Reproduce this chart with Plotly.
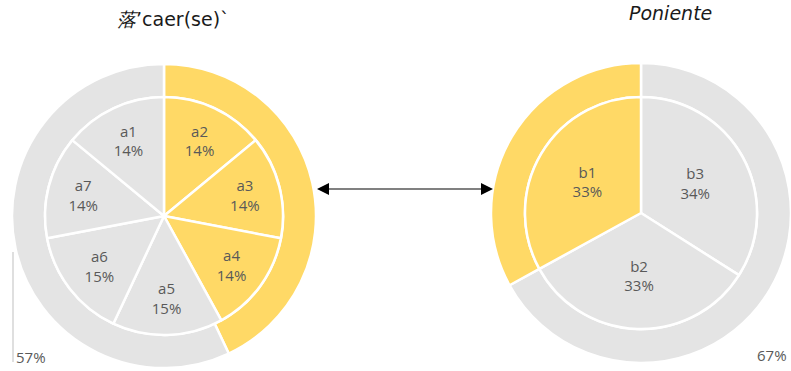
import plotly.graph_objects as go

W, H = 791, 371

# --- data -------------------------------------------------------------
left_title = "<i>落</i>’caer(se)`"
right_title = "<i>Poniente</i>"

# inner pies, listed clockwise from 12 o'clock
left_inner_labels = ["a2", "a3", "a4", "a5", "a6", "a7", "a1"]
left_inner_values = [14, 14, 14, 15, 15, 14, 14]
left_inner_highlight = [True, True, True, False, False, False, False]

right_inner_labels = ["b3", "b2", "b1"]
right_inner_values = [34, 33, 33]
right_inner_highlight = [False, False, True]

# outer rings, clockwise from 12 o'clock
left_outer_labels = ["highlighted", "rest"]
left_outer_values = [43, 57]
left_outer_highlight = [True, False]

right_outer_labels = ["rest", "highlighted"]
right_outer_values = [67, 33]
right_outer_highlight = [False, True]

# --- style ------------------------------------------------------------
GOLD = "#FFD966"
GREY = "#E4E4E4"
TEXT = "#595959"
LABEL_FONT = "Open Sans"
TITLE_FONT = "DejaVu Sans"


def colors(flags):
    return [GOLD if f else GREY for f in flags]


def domain(cx, cy, r):
    x0, x1 = max(cx - r, 0) / W, min(cx + r, W) / W
    y0, y1 = (H - cy - r) / H, (H - cy + r) / H
    return dict(x=[x0, x1], y=[max(y0, 0), min(y1, 1)])


def ring(labels, values, flags, cx, cy, r_out, r_in):
    return go.Pie(
        labels=labels, values=values, sort=False, direction="clockwise",
        rotation=0, hole=r_in / r_out, domain=domain(cx, cy, r_out),
        marker=dict(colors=colors(flags), line=dict(color="white", width=2.5)),
        textinfo="none", hoverinfo="skip", showlegend=False,
    )


def core(labels, values, flags, cx, cy, r):
    return go.Pie(
        labels=labels, values=values, sort=False, direction="clockwise",
        rotation=0, domain=domain(cx, cy, r),
        marker=dict(colors=colors(flags), line=dict(color="white", width=2.5)),
        texttemplate="%{label}<br>%{value}%", textposition="inside",
        insidetextorientation="horizontal",
        textfont=dict(family=LABEL_FONT, size=15, color=TEXT),
        hoverinfo="skip", showlegend=False,
    )


# left pie: centre (164, 216); right pie sits against the right edge
L_CX, L_CY, L_RO, L_RI = 164, 216, 152, 119
R_CX, R_CY, R_RO, R_RI = 641, 213, 150, 116

fig = go.Figure()
fig.add_trace(ring(left_outer_labels, left_outer_values, left_outer_highlight,
                   L_CX, L_CY, L_RO, L_RI))
fig.add_trace(core(left_inner_labels, left_inner_values, left_inner_highlight,
                   L_CX, L_CY, L_RI))
fig.add_trace(ring(right_outer_labels, right_outer_values, right_outer_highlight,
                   R_CX, R_CY, R_RO, R_RI))
fig.add_trace(core(right_inner_labels, right_inner_values, right_inner_highlight,
                   R_CX, R_CY, R_RI))


def px_x(v):
    return v / W


def px_y(v):
    return 1 - v / H


def text_note(text, x, y, size, xanchor="center", family=LABEL_FONT, color=TEXT):
    return dict(text=text, x=px_x(x), y=px_y(y), xref="paper", yref="paper",
                xanchor=xanchor, yanchor="middle", showarrow=False,
                font=dict(family=family, size=size, color=color))


ARROW_Y, ARROW_L, ARROW_R = 189, 317, 493

annotations = [
    text_note(left_title, 173, 19, 19, family=TITLE_FONT, color="#1a1a1a"),
    text_note(right_title, 670, 13, 19, family=TITLE_FONT, color="#1a1a1a"),
    # outer-ring share labels
    text_note(f"{left_outer_values[1]}%", 14, 357, 15, xanchor="left"),
    text_note(f"{right_outer_values[0]}%", 789, 355, 15, xanchor="right"),
    # arrow heads of the connector between the two pies
    dict(x=px_x(ARROW_L), y=px_y(ARROW_Y), xref="paper", yref="paper",
         ax=12, ay=0, axref="pixel", ayref="pixel", text="",
         showarrow=True, arrowhead=2, arrowsize=1.6, arrowwidth=1.5,
         arrowcolor="black", standoff=0),
    dict(x=px_x(ARROW_R), y=px_y(ARROW_Y), xref="paper", yref="paper",
         ax=-12, ay=0, axref="pixel", ayref="pixel", text="",
         showarrow=True, arrowhead=2, arrowsize=1.6, arrowwidth=1.5,
         arrowcolor="black", standoff=0),
]

shapes = [
    # leader line for the 57% label
    dict(type="line", xref="paper", yref="paper",
         x0=px_x(13), x1=px_x(13), y0=px_y(252), y1=px_y(362),
         line=dict(color="#BFBFBF", width=1)),
    # connector shaft
    dict(type="line", xref="paper", yref="paper",
         x0=px_x(ARROW_L + 8), x1=px_x(ARROW_R - 8),
         y0=px_y(ARROW_Y), y1=px_y(ARROW_Y),
         line=dict(color="#808080", width=2)),
]

fig.update_layout(
    width=W, height=H, margin=dict(l=0, r=0, t=0, b=0),
    paper_bgcolor="white", plot_bgcolor="white",
    annotations=annotations, shapes=shapes,
)

fig.write_html("out.html")
